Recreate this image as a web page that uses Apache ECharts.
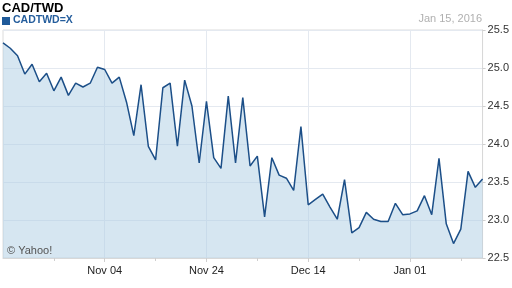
<!DOCTYPE html>
<html><head><meta charset="utf-8">
<script src="https://cdn.jsdelivr.net/npm/echarts@6/dist/echarts.min.js"></script>
<style>html,body{margin:0;padding:0;background:#fff}#c{width:512px;height:288px}</style>
</head><body><div id="c"></div>
<script>
const dates = [
 'Oct 15','Oct 16','Oct 19','Oct 20','Oct 21','Oct 22','Oct 23','Oct 26','Oct 27','Oct 28','Oct 29','Oct 30',
 'Nov 02','Nov 03','Nov 04','Nov 05','Nov 06','Nov 09','Nov 10','Nov 11','Nov 12','Nov 13',
 'Nov 16','Nov 17','Nov 18','Nov 19','Nov 20','Nov 23','Nov 24','Nov 25','Nov 26','Nov 27','Nov 30',
 'Dec 01','Dec 02','Dec 03','Dec 04','Dec 07','Dec 08','Dec 09','Dec 10','Dec 11',
 'Dec 14','Dec 15','Dec 16','Dec 17','Dec 18','Dec 21','Dec 22','Dec 23','Dec 24','Dec 25',
 'Dec 28','Dec 29','Dec 30','Dec 31','Jan 01','Jan 04','Jan 05','Jan 06','Jan 07','Jan 08',
 'Jan 11','Jan 12','Jan 13','Jan 14','Jan 15'
];
const rates = [
 25.33,25.26,25.16,24.92,25.05,24.82,24.93,24.70,24.88,24.64,24.80,24.75,
 24.80,25.01,24.98,24.80,24.88,24.55,24.11,24.78,23.97,23.79,
 24.74,24.80,23.97,24.84,24.50,23.75,24.56,23.82,23.68,24.63,23.75,
 24.61,23.71,23.84,23.04,23.82,23.59,23.55,23.39,24.23,
 23.20,23.27,23.34,23.17,23.01,23.53,22.83,22.90,23.10,23.01,
 22.98,22.98,23.22,23.07,23.08,23.12,23.32,23.07,23.81,22.95,
 22.69,22.88,23.64,23.43,23.54
];
const labelDates = ['Nov 04','Nov 24','Dec 14','Jan 01'];
const yTicks = [22.5, 23.0, 23.5, 24.0, 24.5, 25.0, 25.5];
const titleText = 'CAD/TWD';
const symbolText = 'CADTWD=X';
const dateText = 'Jan 15, 2016';

const FONT = 'Liberation Sans, Arial, sans-serif';
const chart = echarts.init(document.getElementById('c'), null, {renderer: 'canvas'});
const isMajor = (i) => labelDates.indexOf(dates[i]) >= 0;
chart.setOption({
  animation: false,
  textStyle: {fontFamily: FONT},
  grid: {left: 3, right: 29, top: 30, bottom: 30, show: true, borderColor: '#dcdcdc', borderWidth: 1, backgroundColor: 'transparent'},
  xAxis: [{
    type: 'category', data: dates, boundaryGap: false,
    axisLine: {show: true, lineStyle: {color: '#d8d8d8'}},
    axisTick: {show: true, length: 4, interval: (i) => isMajor(i), lineStyle: {color: '#cfcfcf'}},
    axisLabel: {interval: (i) => isMajor(i), color: '#222', fontSize: 11, margin: 7, fontFamily: FONT},
    splitLine: {show: true, interval: (i) => isMajor(i), lineStyle: {color: '#e4e9f0', width: 1}}
  }, {
    type: 'category', data: dates, boundaryGap: false, position: 'bottom',
    axisLine: {show: false},
    axisTick: {show: true, length: 3, interval: (i) => i % 7 === 0 && !isMajor(i) && i > 0, lineStyle: {color: '#cfcfcf'}},
    axisLabel: {show: false}, splitLine: {show: false}
  }],
  yAxis: {
    type: 'value', position: 'right', min: yTicks[0], max: yTicks[yTicks.length - 1], interval: 0.5,
    axisLine: {show: true, lineStyle: {color: '#d8d8d8'}},
    axisTick: {show: true, length: 3, lineStyle: {color: '#cfcfcf'}},
    axisLabel: {color: '#333', fontSize: 11, margin: 5, fontFamily: FONT, formatter: (v) => v.toFixed(1)},
    splitLine: {show: true, lineStyle: {color: '#e4e9f0', width: 1}}
  },
  series: [{
    type: 'line', data: rates, xAxisIndex: 0, showSymbol: false, symbol: 'none',
    lineStyle: {color: '#1c4f88', width: 1.5},
    areaStyle: {color: 'rgba(174,205,228,0.5)', opacity: 1, origin: 'start'},
    z: 2
  }],
  graphic: [
    {type: 'text', left: 2, top: 2, style: {text: titleText, font: 'bold 13px ' + FONT, fill: '#000'}},
    {type: 'rect', shape: {x: 2, y: 17, width: 8, height: 8}, style: {fill: '#1f5a99'}},
    {type: 'text', left: 13, top: 15, style: {text: symbolText, font: 'bold 10.5px ' + FONT, fill: '#245d9c'}},
    {type: 'text', right: 30, top: 13, style: {text: dateText, font: '11px ' + FONT, fill: '#b0b0b0'}},
    {type: 'text', left: 7, top: 245, style: {text: '© Yahoo!', font: '11px ' + FONT, fill: '#555'}, z: 10}
  ]
});
</script></body></html>
